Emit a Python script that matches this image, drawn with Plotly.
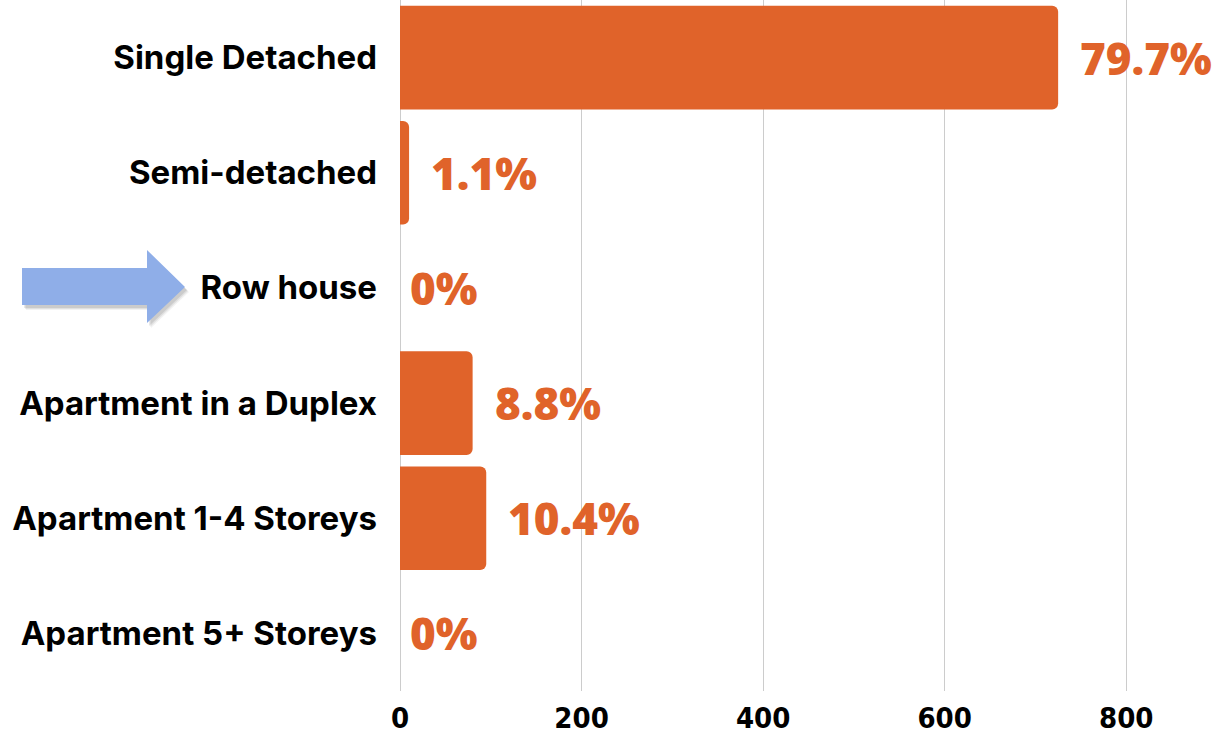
import plotly.graph_objects as go

categories = ["Single Detached", "Semi-detached", "Row house",
              "Apartment in a Duplex", "Apartment 1-4 Storeys", "Apartment 5+ Storeys"]
counts = [725, 10, 0, 80, 95, 0]
pct_labels = ["79.7%", "1.1%", "0%", "8.8%", "10.4%", "0%"]
tick_vals = [0, 200, 400, 600, 800]

W, H = 1226, 734
ML, MR, MT, MB = 400, 9, 0, 43
PW, PH = W - ML - MR, H - MT - MB

ORANGE = "#E0632A"

fig = go.Figure()
fig.add_trace(go.Bar(
    x=counts, y=categories, orientation="h",
    marker=dict(color=ORANGE, cornerradius=6, line=dict(width=0)),
    width=0.9, hoverinfo="skip",
))

for c, v, t in zip(categories, counts, pct_labels):
    fig.add_annotation(
        x=v, y=c, xref="x", yref="y", text=t, showarrow=False,
        xanchor="left", yanchor="middle", xshift=20 if v > 0 else 8,
        font=dict(family="Open Sans", size=44, color=ORANGE, weight=900),
    )

def px2paper(px, py):
    return (px - ML) / PW, (H - MB - py) / PH

def path(points):
    pts = [px2paper(x, y) for x, y in points]
    return "M " + " L ".join(f"{x:.5f},{y:.5f}" for x, y in pts) + " Z"

arrow = [(22, 268), (147, 268), (147, 250), (185, 287), (147, 323), (147, 305), (22, 305)]
for off, a in [(5, 0.05), (4, 0.07), (3, 0.09)]:
    sh = [(x + off - 1, y + off) for x, y in arrow]
    fig.add_shape(type="path", xref="paper", yref="paper", path=path(sh),
                  fillcolor=f"rgba(0,0,0,{a})", line=dict(width=0), layer="above")
fig.add_shape(type="path", xref="paper", yref="paper", path=path(arrow),
              fillcolor="#8FAEE8", line=dict(width=0), layer="above")

fig.update_layout(
    width=W, height=H,
    margin=dict(l=ML, r=MR, t=MT, b=MB, autoexpand=False),
    plot_bgcolor="white", paper_bgcolor="white",
    showlegend=False,
    bargap=0.1,
    xaxis=dict(range=[0, 900], tickvals=tick_vals, showgrid=True, automargin=False,
               gridcolor="#CCCCCC", gridwidth=1, zeroline=True,
               zerolinecolor="#CCCCCC", zerolinewidth=1, showline=False,
               tickfont=dict(family="DejaVu Sans Condensed, Roboto, sans-serif", size=29,
                             color="black", weight=700),
               ticks="", ticklabelstandoff=7, fixedrange=True),
    yaxis=dict(categoryorder="array", categoryarray=categories, autorange="reversed",
               showgrid=False, zeroline=False, showline=False, ticks="", automargin=False,
               ticklabelstandoff=22, fixedrange=True,
               tickfont=dict(family="Inter", size=33, color="black", weight=700)),
)

fig.write_html("out.html", config={"displayModeBar": False, "staticPlot": True},
               post_script="document.body.style.margin='0';document.body.style.overflow='hidden';")
